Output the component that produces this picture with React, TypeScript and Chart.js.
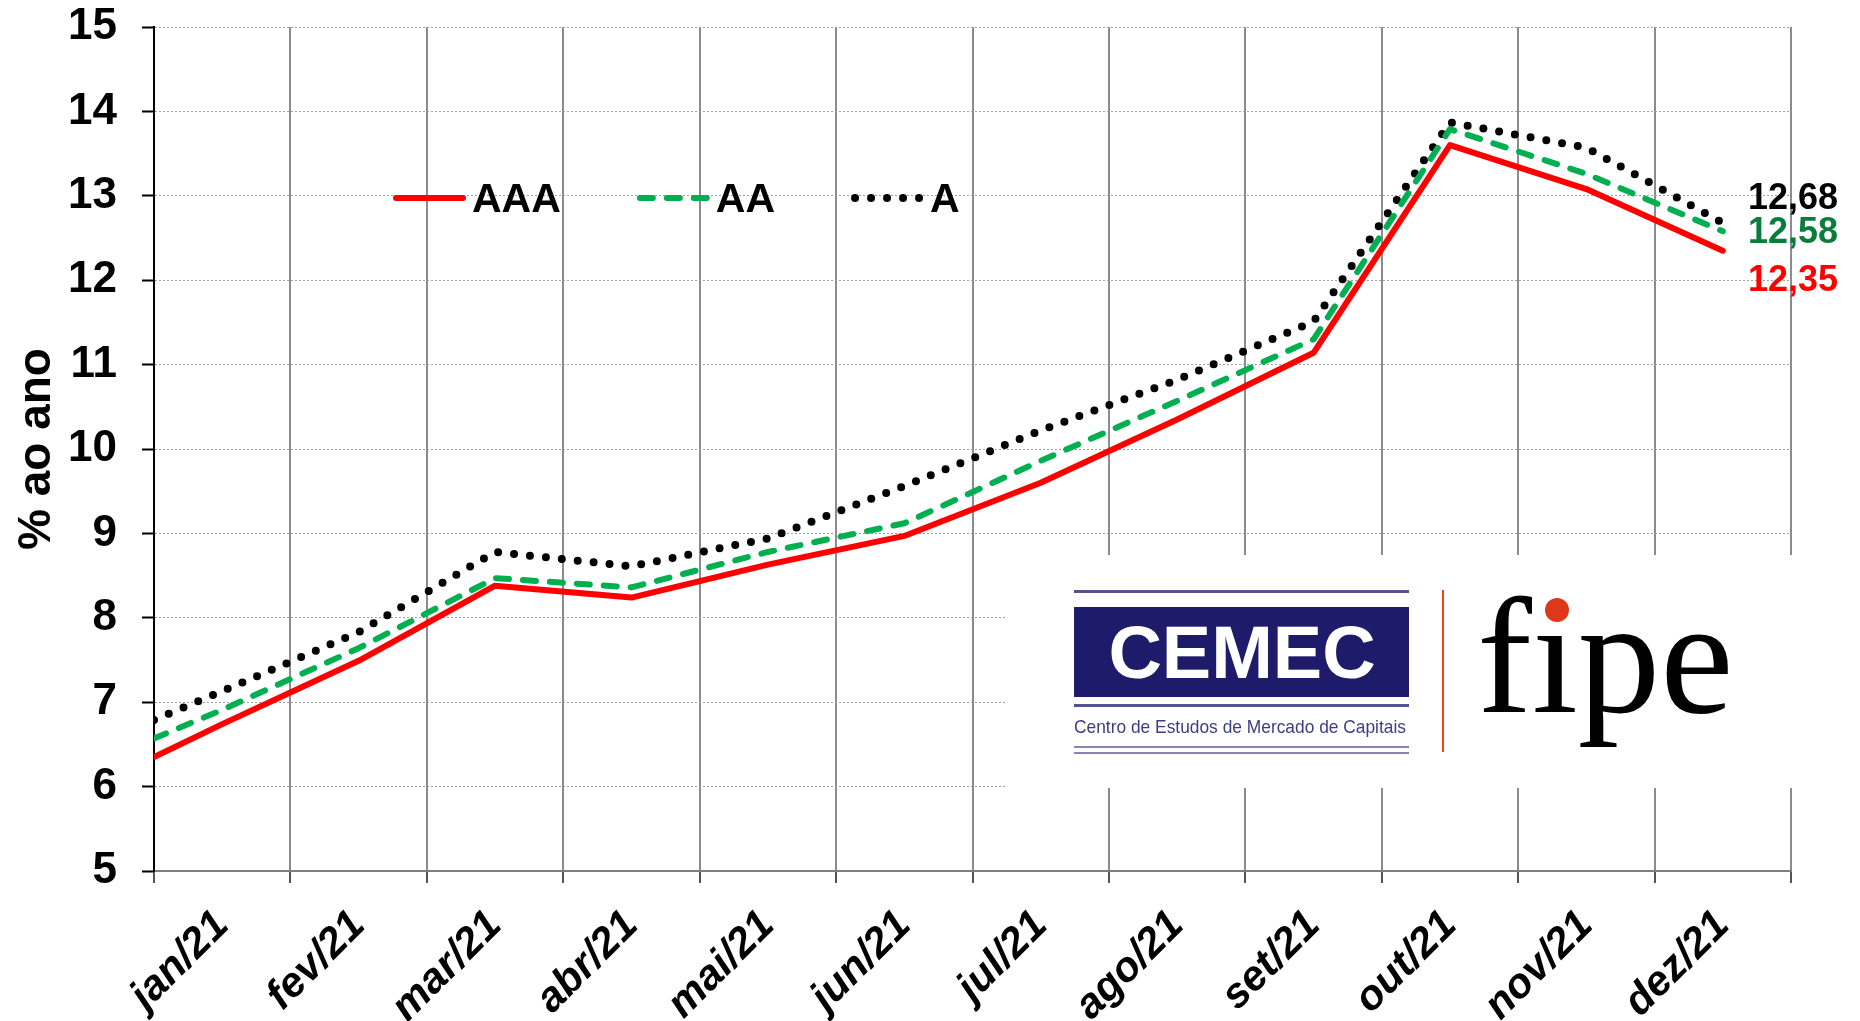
import React, { useEffect, useRef } from "react";
import { Chart, registerables } from "chart.js";

Chart.register(...registerables);

// ---------- data ----------
const months = [
  "jan/21", "fev/21", "mar/21", "abr/21", "mai/21", "jun/21",
  "jul/21", "ago/21", "set/21", "out/21", "nov/21", "dez/21",
];
const ratingLabels = ["AAA", "AA", "A"];
// value at the very start of the period (left edge of the axis)
const startAAA = 6.35;
const startAA = 6.57;
const startA = 6.79;
const valuesAAA = [6.74, 7.49, 8.38, 8.24, 8.63, 8.97, 9.6, 10.35, 11.14, 13.6, 13.08, 12.35];
const valuesAA = [6.91, 7.64, 8.47, 8.36, 8.78, 9.12, 9.86, 10.57, 11.3, 13.79, 13.26, 12.58];
const valuesA = [7.13, 7.83, 8.78, 8.61, 8.94, 9.56, 10.22, 10.82, 11.51, 13.87, 13.57, 12.68];
const yMin = 5;
const yMax = 15;
const yStep = 1;
const yAxisTitle = "% ao ano";
const logoTitle = "CEMEC";
const logoSubtitle = "Centro de Estudos de Mercado de Capitais";

const FONT = '"Liberation Sans", Arial, sans-serif';
const SERIF = '"Liberation Serif", "Times New Roman", serif';

function toPoints(start: number, values: number[]) {
  return [{ x: 0, y: start }, ...values.map((v, i) => ({ x: i + 0.5, y: v }))];
}

// ---------- plugins ----------
const legendPlugin = {
  id: "inlineLegend",
  afterDatasetsDraw(chart: any) {
    const ctx = chart.ctx;
    ctx.save();
    ctx.font = `bold 41px ${FONT}`;
    ctx.textBaseline = "alphabetic";
    ctx.textAlign = "left";
    let x = 393;
    const lineY = 198;
    const lineLen = 73;
    chart.data.datasets.forEach((ds: any) => {
      ctx.save();
      ctx.strokeStyle = ds.borderColor;
      ctx.lineWidth = ds.borderWidth;
      ctx.lineCap = "round";
      ctx.setLineDash(ds.borderDash || []);
      ctx.beginPath();
      const pad = ds.borderWidth / 2;
      ctx.moveTo(x + pad, lineY);
      ctx.lineTo(x + lineLen - pad, lineY);
      ctx.stroke();
      ctx.restore();
      ctx.fillStyle = "#000";
      const tx = x + lineLen + 6;
      ctx.fillText(ds.label, tx, 212);
      x = tx + ctx.measureText(ds.label).width + 76;
    });
    ctx.restore();
  },
};

const endLabelColors = ["#ff0000", "#0a7d3c", "#000000"];
const endLabelOffsets = [40, 12, -14];

const endLabelPlugin = {
  id: "endLabels",
  afterDatasetsDraw(chart: any) {
    const ctx = chart.ctx;
    ctx.save();
    ctx.font = `bold 36px ${FONT}`;
    ctx.textAlign = "right";
    ctx.textBaseline = "alphabetic";
    chart.data.datasets.forEach((ds: any, i: number) => {
      const meta = chart.getDatasetMeta(i);
      const el = meta.data[meta.data.length - 1];
      const val = ds.data[ds.data.length - 1].y;
      ctx.fillStyle = endLabelColors[i];
      ctx.fillText(val.toFixed(2).replace(".", ","), chart.chartArea.right + 47, el.y + endLabelOffsets[i]);
    });
    ctx.restore();
  },
};

const logoPlugin = {
  id: "logo",
  afterDatasetsDraw(chart: any) {
    const ctx = chart.ctx;
    ctx.save();
    ctx.fillStyle = "#ffffff";
    ctx.fillRect(1006, 555, 792, 233);

    // CEMEC block
    ctx.fillStyle = "#53538f";
    ctx.fillRect(1074, 590, 335, 3);
    ctx.fillStyle = "#1f1b6b";
    ctx.fillRect(1074, 607, 335, 90);
    ctx.fillStyle = "#53538f";
    ctx.fillRect(1074, 704, 335, 3);
    ctx.fillStyle = "#8585b3";
    ctx.fillRect(1074, 746, 335, 2);
    ctx.fillRect(1074, 752, 335, 2);

    ctx.fillStyle = "#ffffff";
    ctx.font = `bold 74px ${FONT}`;
    ctx.textAlign = "center";
    ctx.textBaseline = "alphabetic";
    ctx.fillText(logoTitle, 1242, 678);

    ctx.fillStyle = "#3d3d85";
    ctx.font = `19px ${FONT}`;
    ctx.textAlign = "left";
    ctx.fillText(logoSubtitle, 1074, 733, 332);

    // separator
    ctx.fillStyle = "#e4441f";
    ctx.fillRect(1442, 590, 2, 162);

    // fipe
    ctx.fillStyle = "#000000";
    ctx.font = `165px ${SERIF}`;
    ctx.textAlign = "left";
    ctx.fillText("f\u0131pe", 1477, 712);
    ctx.fillStyle = "#e0361a";
    ctx.beginPath();
    ctx.arc(1557, 610, 12, 0, Math.PI * 2);
    ctx.fill();
    ctx.restore();
  },
};

export default function App() {
  const canvasRef = useRef<HTMLCanvasElement | null>(null);

  useEffect(() => {
    document.body.style.margin = "0";
    const canvas = canvasRef.current;
    if (!canvas) return;

    const chart = new Chart(canvas, {
      type: "line",
      data: {
        datasets: [
          {
            label: ratingLabels[0],
            data: toPoints(startAAA, valuesAAA),
            borderColor: "#ff0000",
            borderWidth: 6,
            borderCapStyle: "round",
            borderJoinStyle: "round",
            pointRadius: 0,
            tension: 0,
            fill: false,
          },
          {
            label: ratingLabels[1],
            data: toPoints(startAA, valuesAA),
            borderColor: "#00b050",
            borderWidth: 6,
            borderDash: [13, 14],
            borderCapStyle: "round",
            borderJoinStyle: "round",
            pointRadius: 0,
            tension: 0,
            fill: false,
          },
          {
            label: ratingLabels[2],
            data: toPoints(startA, valuesA),
            borderColor: "#000000",
            borderWidth: 8,
            borderDash: [0, 16],
            borderCapStyle: "round",
            borderJoinStyle: "round",
            pointRadius: 0,
            tension: 0,
            fill: false,
          },
        ],
      } as any,
      options: {
        responsive: false,
        animation: false,
        devicePixelRatio: 1,
        layout: { padding: { top: 27, right: 69, left: 0, bottom: 0 } },
        plugins: {
          legend: { display: false },
          tooltip: { enabled: false },
        },
        scales: {
          x: {
            type: "linear",
            min: 0,
            max: months.length,
            afterBuildTicks: (scale: any) => {
              const t: any[] = [];
              for (let k = 0; k <= months.length * 2; k++) t.push({ value: k / 2 });
              scale.ticks = t;
            },
            afterFit: (scale: any) => {
              scale.height = 150;
              scale.paddingLeft = 0;
              scale.paddingRight = 0;
            },
            ticks: {
              autoSkip: false,
              minRotation: 45,
              maxRotation: 45,
              padding: 18,
              labelOffset: 0,
              color: "#000",
              font: { family: FONT, size: 42, weight: "bold", style: "italic" },
              callback: (value: any) => {
                const v = Number(value);
                return v % 1 === 0.5 ? months[Math.floor(v)] : "";
              },
            },
            grid: {
              color: (c: any) => (c.tick && c.tick.value % 1 === 0 ? "#8c8c8c" : "rgba(0,0,0,0)"),
              lineWidth: 2,
              tickLength: 12,
              tickWidth: 2,
              tickColor: (c: any) => (c.tick && c.tick.value % 1 === 0 ? "#555555" : "rgba(0,0,0,0)"),
            },
            border: { color: "#7f7f7f", width: 2 },
          },
          y: {
            type: "linear",
            min: yMin,
            max: yMax,
            afterFit: (scale: any) => {
              scale.width = 154;
              scale.paddingTop = 0;
              scale.paddingBottom = 0;
            },
            ticks: {
              stepSize: yStep,
              padding: 25,
              color: "#000",
              font: { family: FONT, size: 44, weight: "bold" },
            },
            grid: {
              color: "#a0a0a0",
              lineWidth: 1,
              tickLength: 12,
              tickWidth: 2,
              tickColor: "#000",
              tickBorderDash: [],
            },
            border: { color: "#000", width: 2, dash: [2, 2] },
            title: {
              display: true,
              text: yAxisTitle,
              color: "#000",
              font: { family: FONT, size: 46, weight: "bold" },
              padding: { top: 10, bottom: 0 },
            },
          },
        },
      } as any,
      plugins: [legendPlugin, endLabelPlugin, logoPlugin],
    });

    return () => {
      chart.destroy();
    };
  }, []);

  return (
    <div style={{ width: 1860, height: 1021, background: "#fff" }}>
      <canvas ref={canvasRef} width={1860} height={1021} style={{ display: "block" }} />
    </div>
  );
}
